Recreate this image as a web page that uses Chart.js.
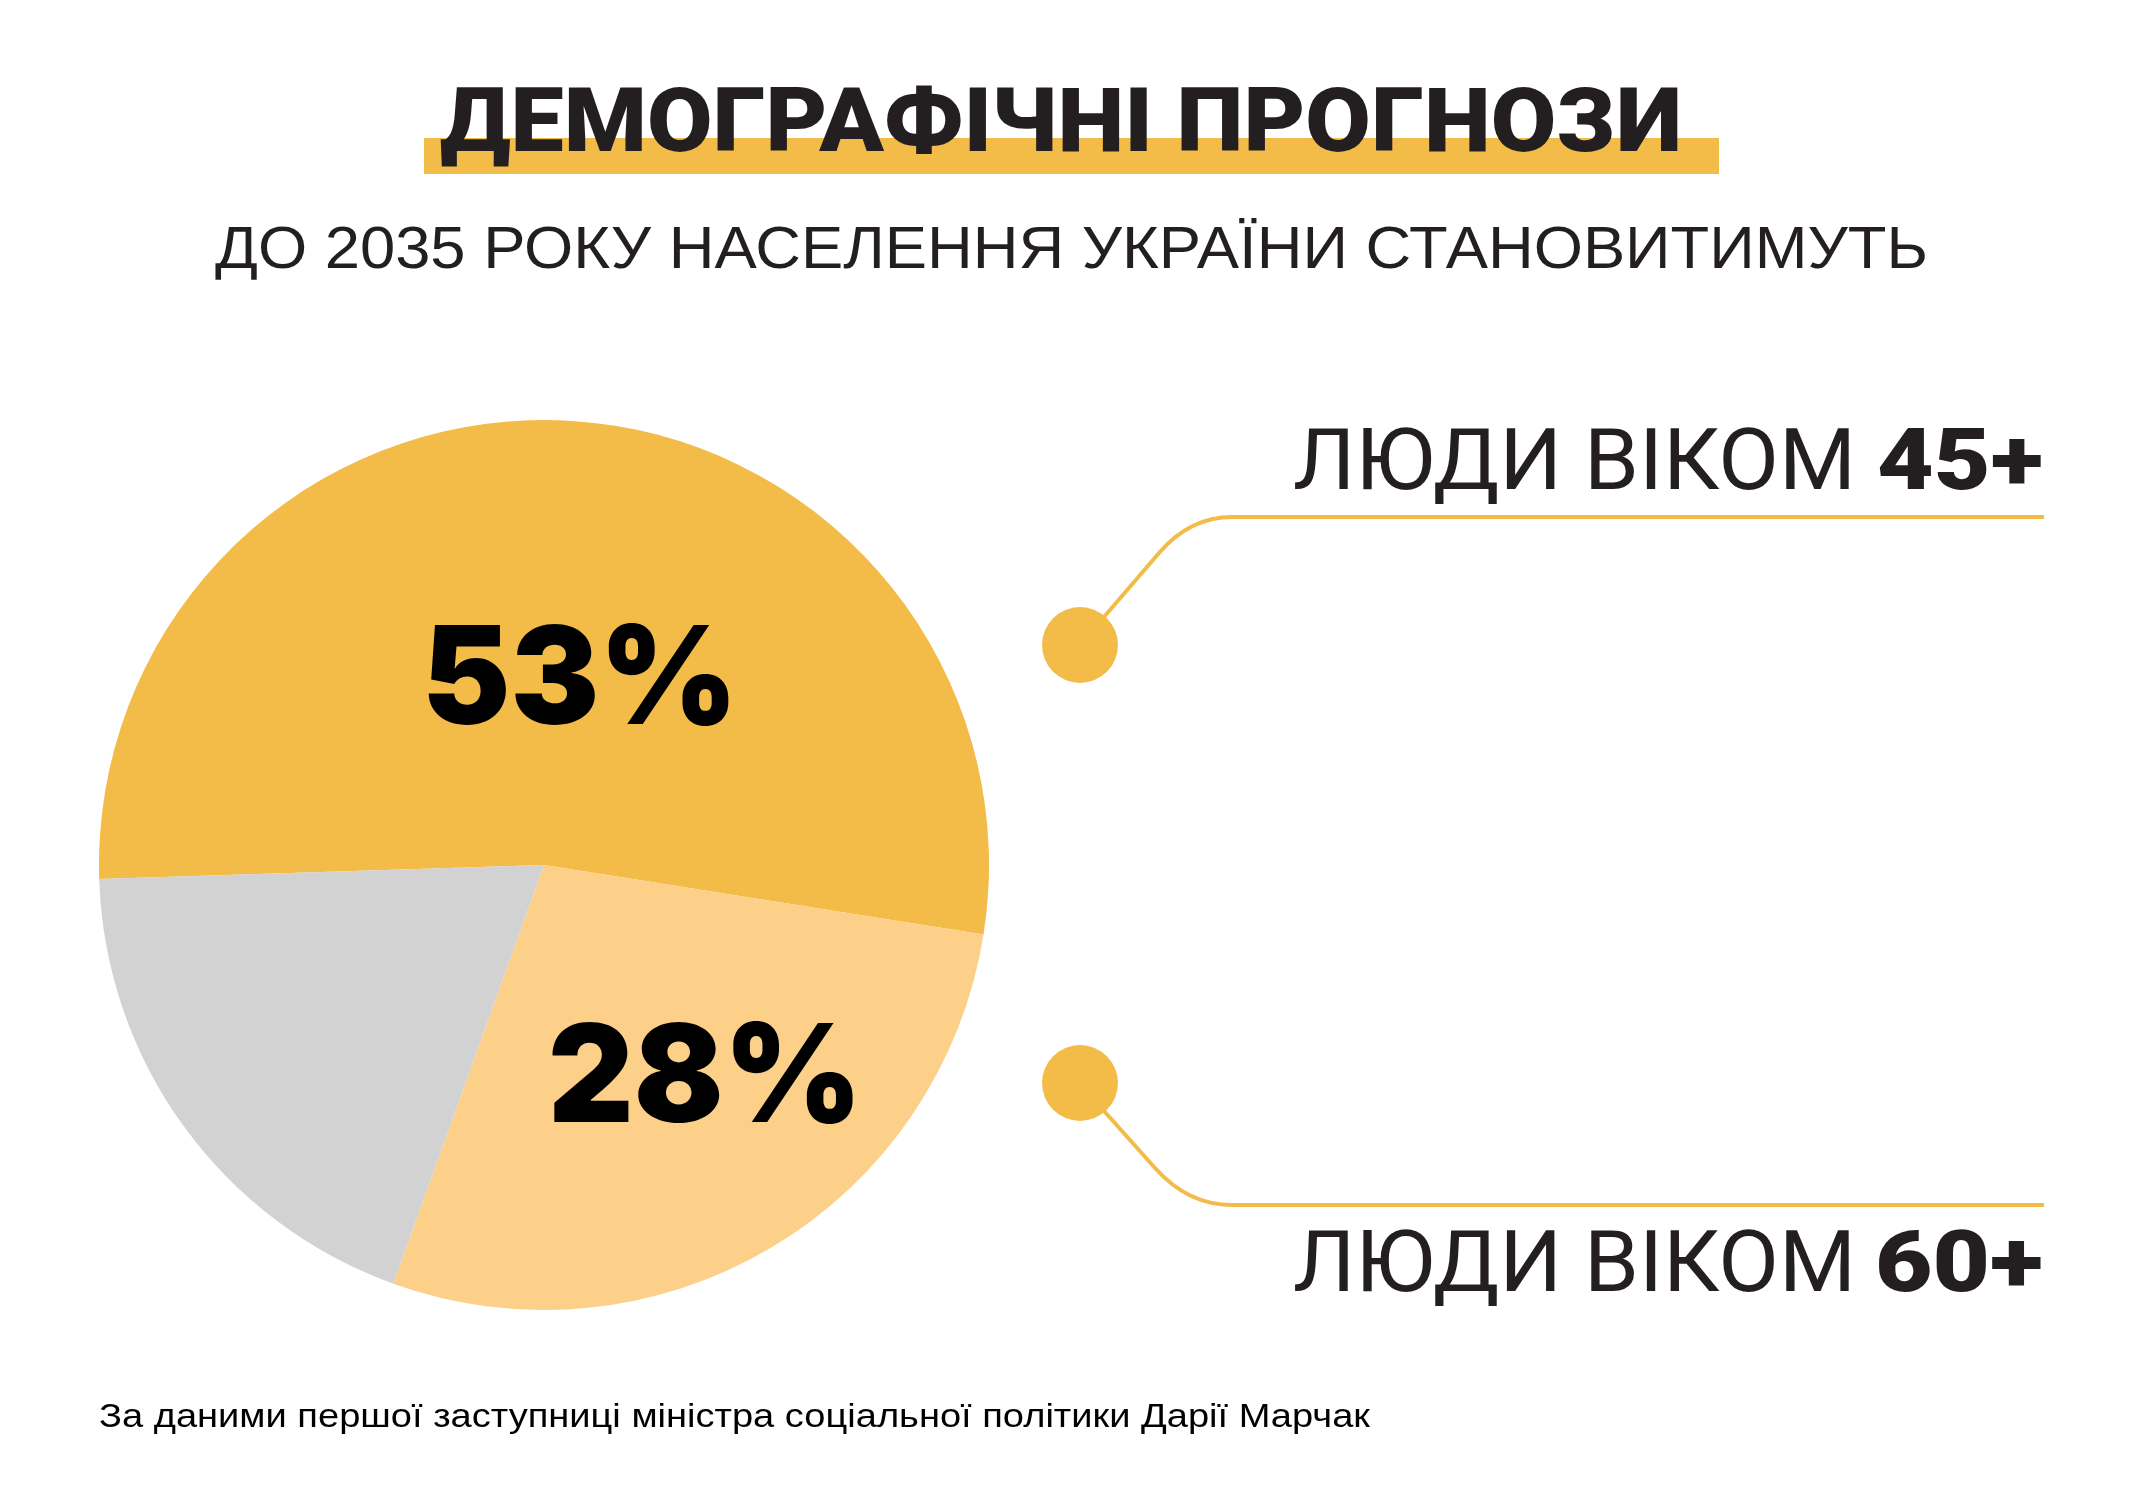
<!DOCTYPE html>
<html lang="uk">
<head>
<meta charset="utf-8">
<title>Демографічні прогнози</title>
<script src="https://cdn.jsdelivr.net/npm/chart.js@4"></script>
<style>
  html, body { margin: 0; padding: 0; background: #fff; }
  #page { position: relative; width: 2133px; height: 1488px; overflow: hidden; background: #fff; }
  #pieBox { position: absolute; left: 99px; top: 420px; width: 890px; height: 890px; }
  #overlay { position: absolute; left: 0; top: 0; pointer-events: none; }
</style>
</head>
<body>
<div id="page">
  <div id="pieBox"><canvas id="pie"></canvas></div>
  <svg id="overlay" width="2133" height="1488" viewBox="0 0 2133 1488" xmlns="http://www.w3.org/2000/svg"></svg>
</div>
<script>
// data
const sliceLabels = ['Люди віком 45+', 'Люди віком 60+', 'Інші'];
const ageGroups = ['45+', '60+'];
const shares = [53, 28, 19];

const title = 'ДЕМОГРАФІЧНІ ПРОГНОЗИ';
const subtitle = 'ДО 2035 РОКУ НАСЕЛЕННЯ УКРАЇНИ СТАНОВИТИМУТЬ';
const labelPrefix = 'ЛЮДИ ВІКОМ';
const source = 'За даними першої заступниці міністра соціальної політики Дарії Марчак';

const YELLOW = '#F3BB48';
const LIGHT = '#FDD089';
const GREY = '#D2D2D2';
const INK = '#231F20';

const pie = new Chart(document.getElementById('pie'), {
  type: 'pie',
  data: {
    labels: sliceLabels,
    datasets: [
      {
        data: shares,
        backgroundColor: [YELLOW, LIGHT, GREY],
        borderWidth: 0,
      }
    ],
  },
  options: {
    responsive: true,
    maintainAspectRatio: false,
    animation: false,
    rotation: 268.2,
    layout: { padding: 0 },
    plugins: {
      legend: { display: false },
      tooltip: { enabled: false },
    },
  },
});

// text and connectors on top
const svg = document.getElementById('overlay');
const NS = 'http://www.w3.org/2000/svg';

function add(tag, attrs, text) {
  const el = document.createElementNS(NS, tag);
  for (const k in attrs) el.setAttribute(k, attrs[k]);
  if (text !== undefined) el.textContent = text;
  svg.appendChild(el);
  return el;
}

function txt(str, x, y, len, font, size, weight, color) {
  return add('text', {
    x: x, y: y,
    textLength: len,
    lengthAdjust: 'spacingAndGlyphs',
    'font-family': font,
    'font-size': size,
    'font-weight': weight,
    fill: color,
  }, str);
}

// title with yellow marker
add('rect', { x: 424, y: 138, width: 1295, height: 36, fill: YELLOW });
txt(title, 440, 151, 1242, 'Roboto, sans-serif', 89, 900, INK);
txt(subtitle, 215, 268, 1713, '"Liberation Sans", Arial, sans-serif', 60, 400, INK);

// percent labels inside the pie
const bigFont = 'Inter, "DejaVu Sans", sans-serif';
txt(shares[0] + '%', 422, 724, 316, bigFont, 136, 900, '#000');
txt(shares[1] + '%', 548, 1122, 314, bigFont, 136, 900, '#000');

// connectors
add('path', {
  d: 'M 1079 646 L 1159 553 Q 1190 517 1232 517 L 2044 517',
  fill: 'none', stroke: YELLOW, 'stroke-width': 4,
});
add('path', {
  d: 'M 1079 1083 L 1155 1168 Q 1188 1205 1232 1205 L 2044 1205',
  fill: 'none', stroke: YELLOW, 'stroke-width': 4,
});
add('circle', { cx: 1080, cy: 645, r: 38, fill: YELLOW });
add('circle', { cx: 1080, cy: 1083, r: 38, fill: YELLOW });

// group labels
const labelFont = 'Roboto, sans-serif';
txt(labelPrefix, 1293, 489, 563, labelFont, 86, 400, INK);
txt(ageGroups[0], 1877, 489, 166, labelFont, 86, 900, INK);
txt(labelPrefix, 1293, 1291, 563, labelFont, 86, 400, INK);
txt(ageGroups[1], 1875, 1291, 168, labelFont, 86, 900, INK);

// source line
txt(source, 99, 1427, 1271, '"Liberation Sans", Arial, sans-serif', 33, 400, '#000');
</script>
</body>
</html>
